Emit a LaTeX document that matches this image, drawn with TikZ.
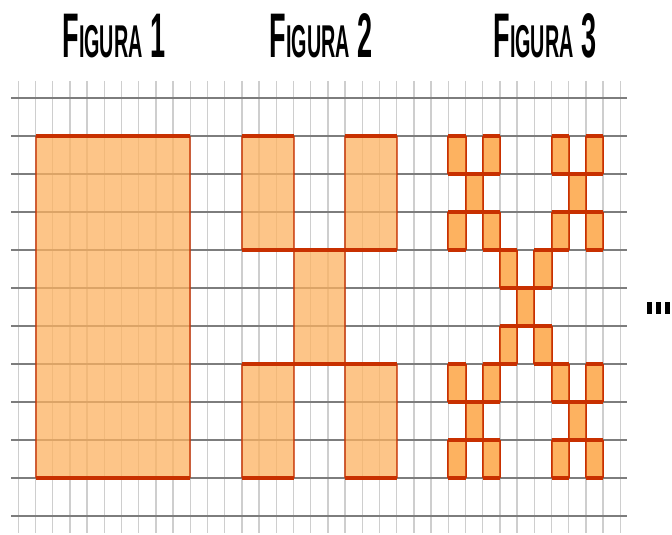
\documentclass[tikz,border=0pt]{standalone}
\usepackage{fontspec}
\setmainfont{Liberation Sans}
\usepackage{xcolor}
\usetikzlibrary{positioning}

\definecolor{gridv}{RGB}{206,206,206}
\definecolor{gridh}{RGB}{125,125,125}
\definecolor{tilefill}{RGB}{253,178,96}
\definecolor{tileline}{RGB}{200,48,0}

\newcommand{\figtitle}[1]{\scalebox{0.43}[1]{\bfseries\fontsize{63}{63}\selectfont F\fontsize{46}{46}\selectfont IGURA\fontsize{63}{63}\selectfont\ #1}}
% one square of the figures: column, row, size
\newcommand{\tilecell}[3]{%
  \fill[tilefill, fill opacity=0.75] (#1,#2) rectangle ++(#3,#3);
  \draw[tileline, draw opacity=0.7, line width=2pt] (#1,#2) -- ++(0,#3) (#1+#3,#2) -- ++(0,#3);
  \draw[tileline, line width=4.4pt] (#1,#2) -- ++(#3,0) (#1,#2+#3) -- ++(#3,0);}

\begin{document}
\begin{tikzpicture}[x=17.2pt, y=-38pt,
    title/.style={anchor=base, inner sep=0pt},
    vline/.style={gridv, line width=1.5pt},
    hline/.style={gridh, line width=1.3pt}]
  \useasboundingbox (-1.064,-2.579) rectangle (38.006,11.474);
  % grid
  \foreach \c in {0,...,35}
    \draw[vline] (\c,-0.45) -- (\c,11.45);
  \foreach \r in {0,...,11}
    \draw[hline] (-0.42,\r) -- (35.39,\r);
  % titles
  \node[title] (fig1) at (5.56,-1.053) {\figtitle{1}};
  \node[title] (fig2) at (17.6,-1.053) {\figtitle{2}};
  \node[title] (fig3) at (30.62,-1.053) {\figtitle{3}};
  % figura 1
  \tilecell{1}{1}{9}
  % figura 2
  \foreach \bx/\by in {0/0,6/0,3/3,0/6,6/6}
    \tilecell{13+\bx}{1+\by}{3}
  % figura 3
  \foreach \bx/\by in {0/0,6/0,3/3,0/6,6/6}
    \foreach \cx/\cy in {0/0,2/0,1/1,0/2,2/2}
      \tilecell{25+\bx+\cx}{1+\by+\cy}{1}
  \node[anchor=west, inner sep=0pt] (more) at (36.45,5.54)
    {\scalebox{0.4}[1]{\fontsize{80}{80}\selectfont\bfseries ...}};
\end{tikzpicture}
\end{document}
